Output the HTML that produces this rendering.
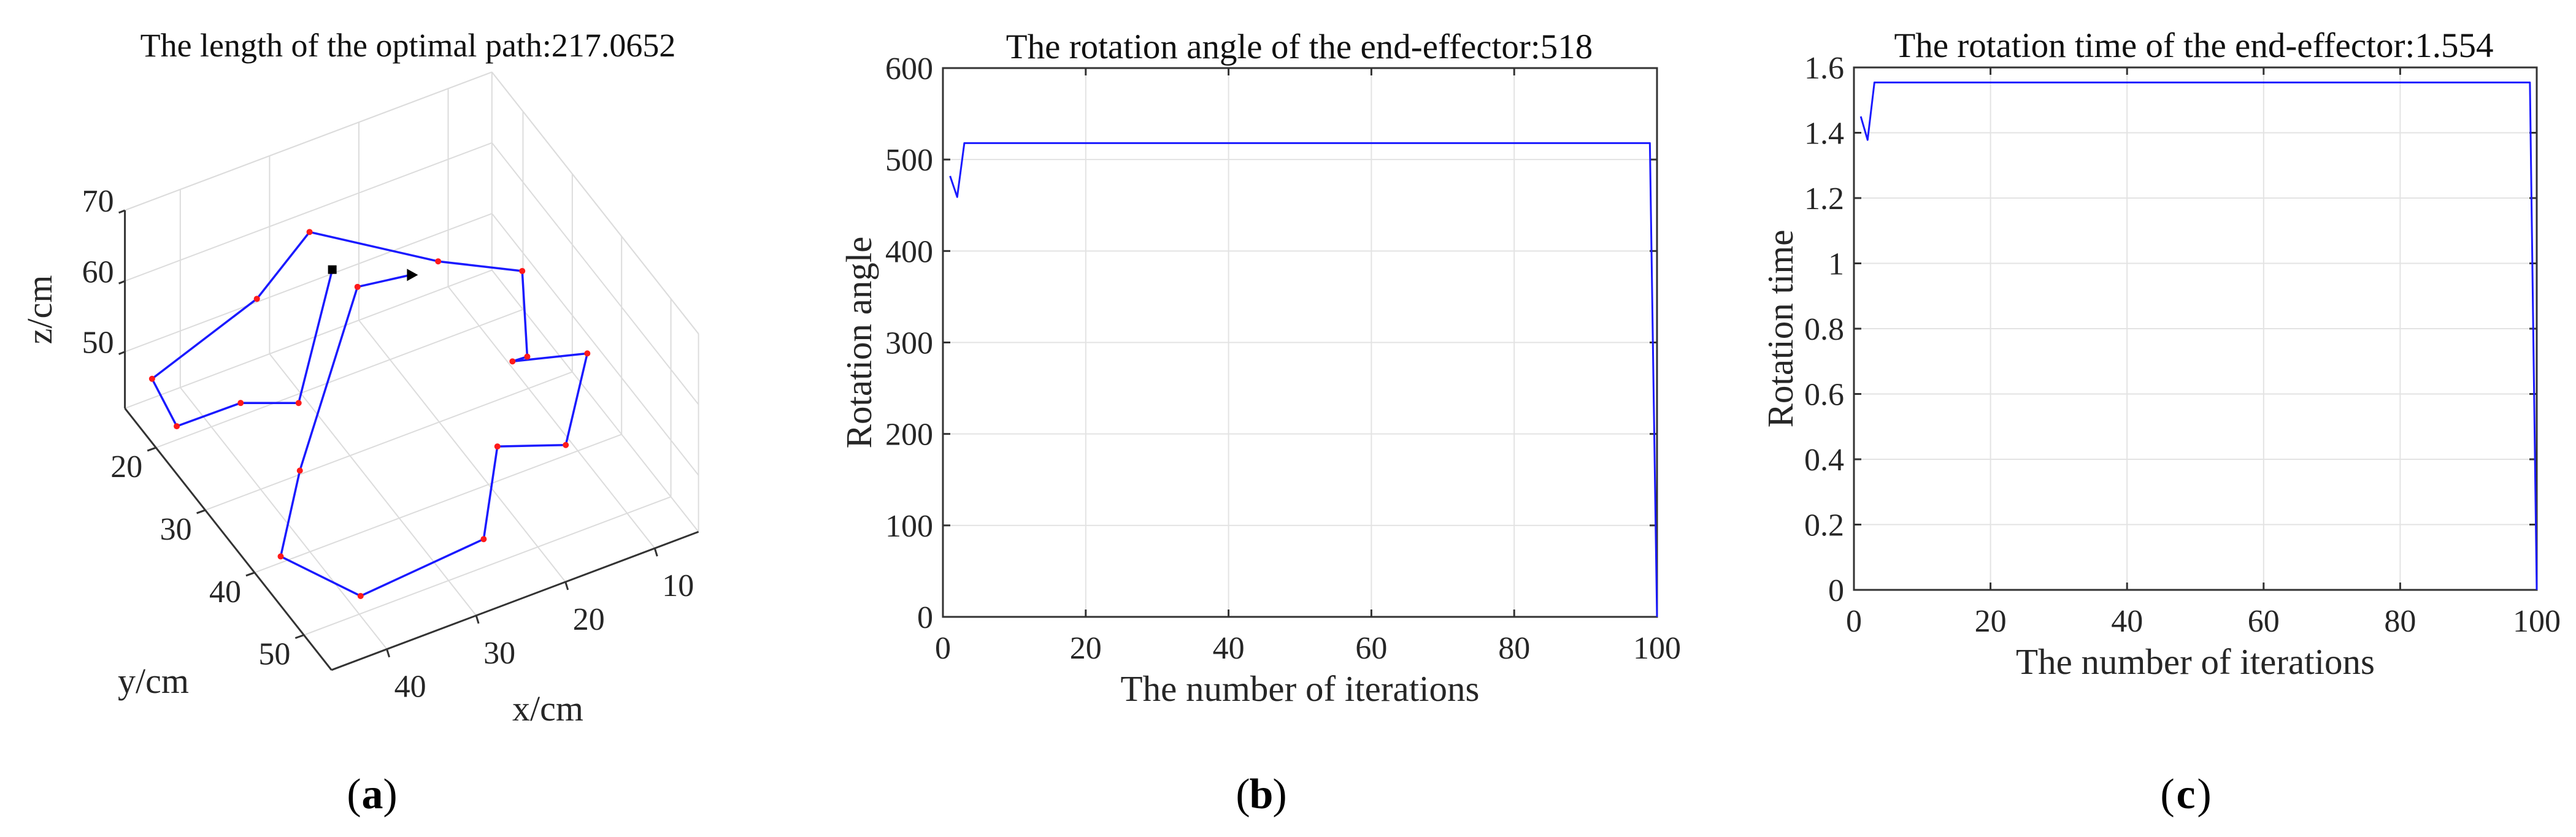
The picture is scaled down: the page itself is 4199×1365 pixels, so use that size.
<!DOCTYPE html>
<html><head><meta charset="utf-8">
<style>
html,body{margin:0;padding:0;background:#fff;}
svg{display:block;}
svg text{font-family:"Liberation Serif","Times New Roman",serif;}
</style></head>
<body>
<svg id="fig" width="4199" height="1365" viewBox="0 0 4199 1365" xmlns="http://www.w3.org/2000/svg" font-family="Liberation Serif, serif">
<rect width="4199" height="1365" fill="#fff"/>
<g id="pa"></g>
<g id="pb"></g>
<g id="pc"></g>
</svg>
<script>
// ---------- Panel (a) data ----------
const pathX = [22.7,34.7,39.7,46.8,45.7,31.2,22.1,13.0,6.4,11.8,13.4,6.4,14.5,20.5,28.0,42.5,46.7,39.2,21.7,16.3];
const pathY = [13.2,28.1,25.4,25.3,18.3,13.3,7.5,17.1,22.2,33.0,32.9,35.4,45.7,42.7,53.5,54.8,46.2,36.5,16.5,17.5];
const pathZ = [50,50,50,50,50,50,50,50,50,50,50,50,50,50,50,50,50,50,50,50];
const xTicks3 = [10,20,30,40];
const yTicks3 = [20,30,40,50];
const zTicks3 = [50,60,70];
// ---------- Panel (b) data ----------
const iterB = [1,2,3,99,100];
const angleB = [482,459,518,518,0];
const xTicksB = [0,20,40,60,80,100];
const yTicksB = [0,100,200,300,400,500,600];
// ---------- Panel (c) data ----------
const iterC = [1,2,3,99,100];
const timeC = [1.45,1.378,1.554,1.554,0];
const xTicksC = [0,20,40,60,80,100];
const yTicksC = [0,0.2,0.4,0.6,0.8,1,1.2,1.4,1.6];
const yTickLabelsC = ['0','0.2','0.4','0.6','0.8','1','1.2','1.4','1.6'];

const NS='http://www.w3.org/2000/svg';
const FONT='Liberation Serif, serif';
function mk(tag,attrs,parent){const e=document.createElementNS(NS,tag);for(const k in attrs)e.setAttribute(k,attrs[k]);parent.appendChild(e);return e;}
function txt(parent,s,x,y,size,anchor,extra){const t=mk('text',Object.assign({x:x,y:y,'font-size':size,'font-family':FONT,'text-anchor':anchor||'middle',fill:'#262626'},extra||{}),parent);t.textContent=s;return t;}

// ================= Panel A =================
(function(){
  const g=document.getElementById('pa');
  const SX=0.893, SY=0.8705;
  const XMAX=46.2,XMIN=5.1,YMIN=13.7,YMAX=55.6,ZMIN=42,ZMAX=70;
  function P(x,y,z){
    const sx=228+(x-XMAX)*(-16.3)+(y-YMIN)*9;
    const sy=765+(x-XMAX)*6.3+(y-YMIN)*11.7+(z-ZMIN)*(-13.25);
    return [sx*SX, sy*SY];
  }
  function line(a,b,st,w,name){const l=mk('line',{x1:a[0],y1:a[1],x2:b[0],y2:b[1],stroke:st,'stroke-width':w},g);
    
    return l;}
  const gc='#dcdcdc';
  xTicks3.forEach(v=>{line(P(v,YMIN,ZMIN),P(v,YMAX,ZMIN),gc,2,'floor-gridline-x');line(P(v,YMIN,ZMIN),P(v,YMIN,ZMAX),gc,2,'wall-gridline-x');});
  yTicks3.forEach(v=>{line(P(XMIN,v,ZMIN),P(XMAX,v,ZMIN),gc,2,'floor-gridline-y');line(P(XMIN,v,ZMIN),P(XMIN,v,ZMAX),gc,2,'wall-gridline-y');});
  zTicks3.forEach(v=>{line(P(XMAX,YMIN,v),P(XMIN,YMIN,v),gc,2,'wall-gridline-z');line(P(XMIN,YMIN,v),P(XMIN,YMAX,v),gc,2,'wall-gridline-z');});
  line(P(XMIN,YMIN,ZMIN),P(XMIN,YMIN,ZMAX),gc,2,'box-edge');
  line(P(XMAX,YMIN,ZMAX),P(XMIN,YMIN,ZMAX),gc,2,'box-edge');
  line(P(XMIN,YMIN,ZMAX),P(XMIN,YMAX,ZMAX),gc,2,'box-edge');
  line(P(XMIN,YMAX,ZMIN),P(XMIN,YMAX,ZMAX),gc,2,'box-edge');
  line(P(XMAX,YMIN,ZMIN),P(XMIN,YMIN,ZMIN),gc,2,'box-edge');
  line(P(XMIN,YMIN,ZMIN),P(XMIN,YMAX,ZMIN),gc,2,'box-edge');
  const ac='#333';
  line(P(XMAX,YMIN,ZMIN),P(XMAX,YMIN,ZMAX),ac,3,'z-axis');
  line(P(XMAX,YMIN,ZMIN),P(XMAX,YMAX,ZMIN),ac,3,'y-axis');
  line(P(XMAX,YMAX,ZMIN),P(XMIN,YMAX,ZMIN),ac,3,'x-axis');
  zTicks3.forEach(v=>{const a=P(XMAX,YMIN,v);line(a,[a[0]-10,a[1]+4],ac,3,'z-tick');});
  yTicks3.forEach(v=>{const a=P(XMAX,v,ZMIN);line(a,[a[0]-14,a[1]+5],ac,3,'y-tick');});
  xTicks3.forEach(v=>{const a=P(v,YMAX,ZMIN);line(a,[a[0]+4,a[1]+13],ac,3,'x-tick');});
  zTicks3.forEach(v=>{const a=P(XMAX,YMIN,v);const t=txt(g,String(v),a[0]-18,a[1]+2,52,'end');
    
    });
  yTicks3.forEach(v=>{const a=P(XMAX,v,ZMIN);const t=txt(g,String(v),a[0]-48,a[1]+48,52,'middle');
    
    });
  xTicks3.forEach(v=>{const a=P(v,YMAX,ZMIN);const t=txt(g,String(v),a[0]+38,a[1]+78,52,'middle');
    
    });
  let t=txt(g,'z/cm',0,0,58,'middle',{transform:'translate(84,505) rotate(-90)'});
  
  t=txt(g,'y/cm',250,1130,58,'middle');
  
  t=txt(g,'x/cm',893,1175,58,'middle');
  
  t=txt(g,'The length of the optimal path:217.0652',665,92,54,'middle',{fill:'#111'});
  
  const pts=pathX.map((x,i)=>P(x,pathY[i],pathZ[i]));
  const pl=mk('polyline',{points:pts.map(p=>p.join(',')).join(' '),fill:'none',stroke:'#1a1aff','stroke-width':3.5,'stroke-linejoin':'round'},g);
  
  
  pts.forEach((p,i)=>{if(i===0||i===pts.length-1)return;const c=mk('circle',{cx:p[0],cy:p[1],r:5,fill:'#ff1a1a'},g);
    
    });
  const s=pts[0];const sq=mk('rect',{x:s[0]-7,y:s[1]-7,width:14,height:14,fill:'#000'},g);
  
  
  const e=pts[pts.length-1];const ar=mk('polygon',{points:`${e[0]-6},${e[1]-10} ${e[0]+12},${e[1]} ${e[0]-6},${e[1]+10}`,fill:'#000'},g);
  
  
  t=txt(g,'(',577,1318,70,'middle',{fill:'#000'});
  t=txt(g,'a',607,1318,70,'middle',{fill:'#000','font-weight':'bold'});
  t=txt(g,')',636,1318,70,'middle',{fill:'#000'});
})();

// ================= 2D panels =================
function panel(gid,o,xs,ys,xT,yT,yLab,title,ylabel,letter){
  const g=document.getElementById(gid);
  const X=v=>o.L+(v-o.x0)/(o.x1-o.x0)*(o.R-o.L);
  const Y=v=>o.B-(v-o.y0)/(o.y1-o.y0)*(o.B-o.T);
  function line(x1,y1,x2,y2,st,w,name){const l=mk('line',{x1:x1,y1:y1,x2:x2,y2:y2,stroke:st,'stroke-width':w},g);
    
    }
  xT.forEach(v=>line(X(v),o.T,X(v),o.B,'#e3e3e3',2,'x-gridline'));
  yT.forEach(v=>line(o.L,Y(v),o.R,Y(v),'#e3e3e3',2,'y-gridline'));
  const fr=mk('rect',{x:o.L,y:o.T,width:o.R-o.L,height:o.B-o.T,fill:'none',stroke:'#333','stroke-width':3},g);
  
  
  xT.forEach(v=>{line(X(v),o.B,X(v),o.B-12,'#333',3,'x-tick');line(X(v),o.T,X(v),o.T+12,'#333',3,'x-tick');});
  yT.forEach(v=>{line(o.L,Y(v),o.L+12,Y(v),'#333',3,'y-tick');line(o.R,Y(v),o.R-12,Y(v),'#333',3,'y-tick');});
  xT.forEach(v=>{const t=txt(g,String(v),X(v),o.B+68,52,'middle');
    
    });
  yT.forEach((v,i)=>{const t=txt(g,yLab[i],o.L-16,Y(v)+18,52,'end');
    
    });
  const pl=mk('polyline',{points:xs.map((x,i)=>X(x)+','+Y(ys[i])).join(' '),fill:'none',stroke:'#1a1aff','stroke-width':3,'stroke-linejoin':'round'},g);
  
  
  let t=txt(g,title,o.tx,o.ty,57,'middle',{fill:'#111'});
  
  t=txt(g,'The number of iterations',(o.L+o.R)/2,o.B+137,59,'middle');
  
  t=txt(g,ylabel,0,0,59,'middle',{transform:`translate(${o.yx},${(o.T+o.B)/2}) rotate(-90)`});
  
  t=txt(g,'(',o.lx-30,1318,70,'middle',{fill:'#000'});
  t=txt(g,letter,o.lx,1318,70,'middle',{fill:'#000','font-weight':'bold'});
  t=txt(g,')',o.lx+30,1318,70,'middle',{fill:'#000'});
}
panel('pb',{L:1537,R:2701,T:111,B:1006,x0:0,x1:100,y0:0,y1:600,tx:2118,ty:95,yx:1420,lx:2056},
  iterB,angleB,xTicksB,yTicksB,yTicksB.map(String),'The rotation angle of the end-effector:518','Rotation angle','b');
panel('pc',{L:3022,R:4135,T:110,B:962,x0:0,x1:100,y0:0,y1:1.6,tx:3576,ty:93,yx:2922,lx:3563},
  iterC,timeC,xTicksC,yTicksC,yTickLabelsC,'The rotation time of the end-effector:1.554','Rotation time','c');
</script>
</body></html>
